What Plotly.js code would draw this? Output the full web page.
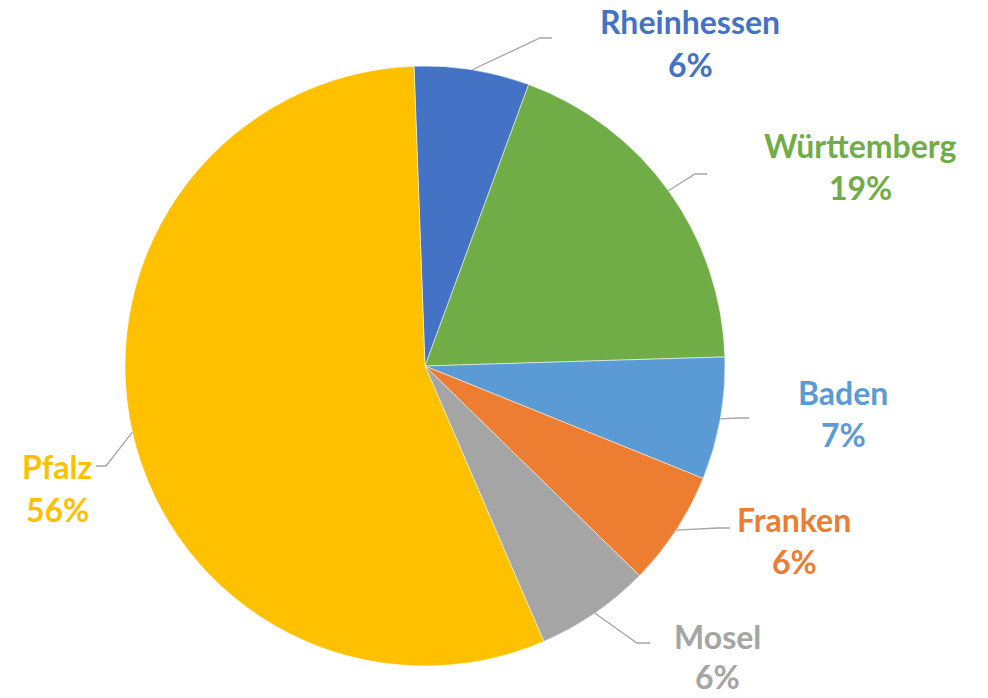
<!DOCTYPE html>
<html>
<head>
<meta charset="utf-8">
<script src="https://cdn.plot.ly/plotly-3.0.1.min.js"></script>
<style>html,body{margin:0;padding:0;background:#fff}#chart{width:988px;height:698px}</style>
</head>
<body>
<div id="chart"></div>
<script>
// ---- data ----
const labels = ['Rheinhessen', 'Württemberg', 'Baden', 'Franken', 'Mosel', 'Pfalz'];
const values = [6.2, 18.9, 6.6, 6.2, 6.2, 55.9];
const colors = ['#4472C4', '#70AD47', '#5B9BD5', '#ED7D31', '#A5A5A5', '#FFC000'];

// ---- layout / style ----
const W = 988, H = 698;
const CX = 425, CY = 366, R = 300;
const ROTATION = -2.1;
const FONT = 'Lato, "Open Sans", sans-serif';
const FSIZE = 32;
// label placement (pixel positions of name line and percent line centres)
const labelPos = [
  {x: 690, yn: 21, yp: 64, ex: 540, ey: 38, tx: 552},
  {x: 860, yn: 145, yp: 187, ex: 695, ey: 174, tx: 707},
  {x: 843, yn: 392, yp: 434, ex: 738, ey: 418, tx: 749},
  {x: 794, yn: 519, yp: 561, ex: 718, ey: 528, tx: 730},
  {x: 717, yn: 636, yp: 676, ex: 637, ey: 643, tx: 650},
  {x: 57, yn: 466, yp: 509, ex: 106, ey: 466, tx: 96}
];

const px = x => x / W;
const py = y => 1 - y / H;

const total = values.reduce((a, b) => a + b, 0);
const annotations = [];
const shapes = [];
let cum = 0;
values.forEach((v, i) => {
  const mid = (ROTATION + (cum + v / 2) / total * 360) * Math.PI / 180;
  cum += v;
  const ax = CX + R * Math.sin(mid), ay = CY - R * Math.cos(mid);
  const p = labelPos[i];
  shapes.push({
    type: 'path', xref: 'paper', yref: 'paper',
    path: `M ${px(ax)} ${py(ay)} L ${px(p.ex)} ${py(p.ey)} L ${px(p.tx)} ${py(p.ey)}`,
    line: {color: '#A6A6A6', width: 1.3}
  });
  const pct = Math.round(v / total * 100) + '%';
  [[labels[i], p.yn], [pct, p.yp]].forEach(([t, y]) => {
    annotations.push({
      text: '<b>' + t + '</b>', showarrow: false,
      xref: 'paper', yref: 'paper', x: px(p.x), y: py(y),
      xanchor: 'center', yanchor: 'middle',
      font: {family: FONT, size: FSIZE, color: colors[i]}
    });
  });
});

const trace = {
  type: 'pie',
  labels: labels,
  values: values,
  sort: false,
  direction: 'clockwise',
  rotation: ROTATION,
  textinfo: 'none',
  hoverinfo: 'label+percent',
  marker: {colors: colors, line: {color: '#FFFFFF', width: 0.5}},
  domain: {x: [px(CX - R), px(CX + R)], y: [py(CY + R), py(CY - R)]}
};

const layout = {
  width: W, height: H,
  margin: {l: 0, r: 0, t: 0, b: 0},
  showlegend: false,
  paper_bgcolor: '#FFFFFF',
  annotations: annotations,
  shapes: shapes
};

Plotly.newPlot('chart', [trace], layout, {displayModeBar: false, staticPlot: true});
</script>
</body>
</html>
